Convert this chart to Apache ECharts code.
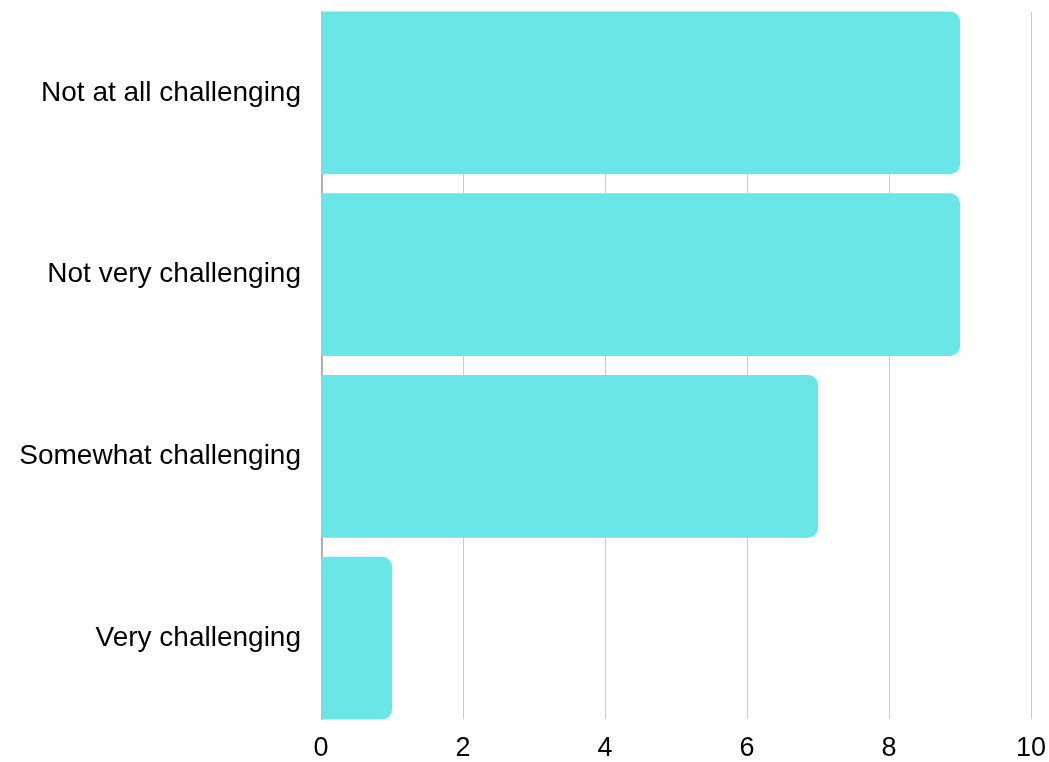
<!DOCTYPE html>
<html><head><meta charset="utf-8">
<script src="https://cdn.jsdelivr.net/npm/echarts@6/dist/echarts.min.js"></script>
<style>html,body{margin:0;padding:0;background:#fff}#c{width:1049px;height:762px}</style>
</head><body><div id="c"></div>
<script>
const categories = ["Not at all challenging", "Not very challenging", "Somewhat challenging", "Very challenging"];
const values = [9, 9, 7, 1];
const xTicks = [0, 2, 4, 6, 8, 10];

const FONT = 'Liberation Sans, Arial, sans-serif';
const chart = echarts.init(document.getElementById('c'), null, {renderer: 'canvas'});
chart.setOption({
  animation: false,
  grid: [
    {left: 321, right: 18, top: 2, bottom: 33, containLabel: false},
    {left: 321, right: 18, top: 12, bottom: 42, containLabel: false}
  ],
  xAxis: [
    {
      gridIndex: 0, type: 'value', min: xTicks[0], max: xTicks[xTicks.length - 1], interval: 2,
      axisLine: {show: false}, axisTick: {show: false}, splitLine: {show: false}, axisLabel: {show: false}
    },
    {
      gridIndex: 1, type: 'value', min: xTicks[0], max: xTicks[xTicks.length - 1], interval: 2,
      axisLine: {show: false}, axisTick: {show: false},
      splitLine: {show: true, lineStyle: {color: '#cccccc', width: 1}},
      axisLabel: {color: '#000', fontSize: 27, fontFamily: FONT, margin: 16}
    }
  ],
  yAxis: [
    {
      gridIndex: 0, type: 'category', data: categories, inverse: true,
      axisLine: {show: false}, axisTick: {show: false},
      axisLabel: {color: '#000', fontSize: 28, fontFamily: FONT, margin: 20}
    },
    {
      gridIndex: 1, type: 'value', min: 0, max: 1, offset: -1,
      axisLine: {show: true, lineStyle: {color: '#9e9e9e', width: 1.5}},
      axisTick: {show: false}, axisLabel: {show: false}, splitLine: {show: false}
    }
  ],
  series: [{
    type: 'bar', xAxisIndex: 0, yAxisIndex: 0, data: values, barCategoryGap: '10.4%', z: 5,
    itemStyle: {color: '#6ae6e9', borderRadius: [0, 10, 10, 0]}
  }]
});
</script></body></html>
